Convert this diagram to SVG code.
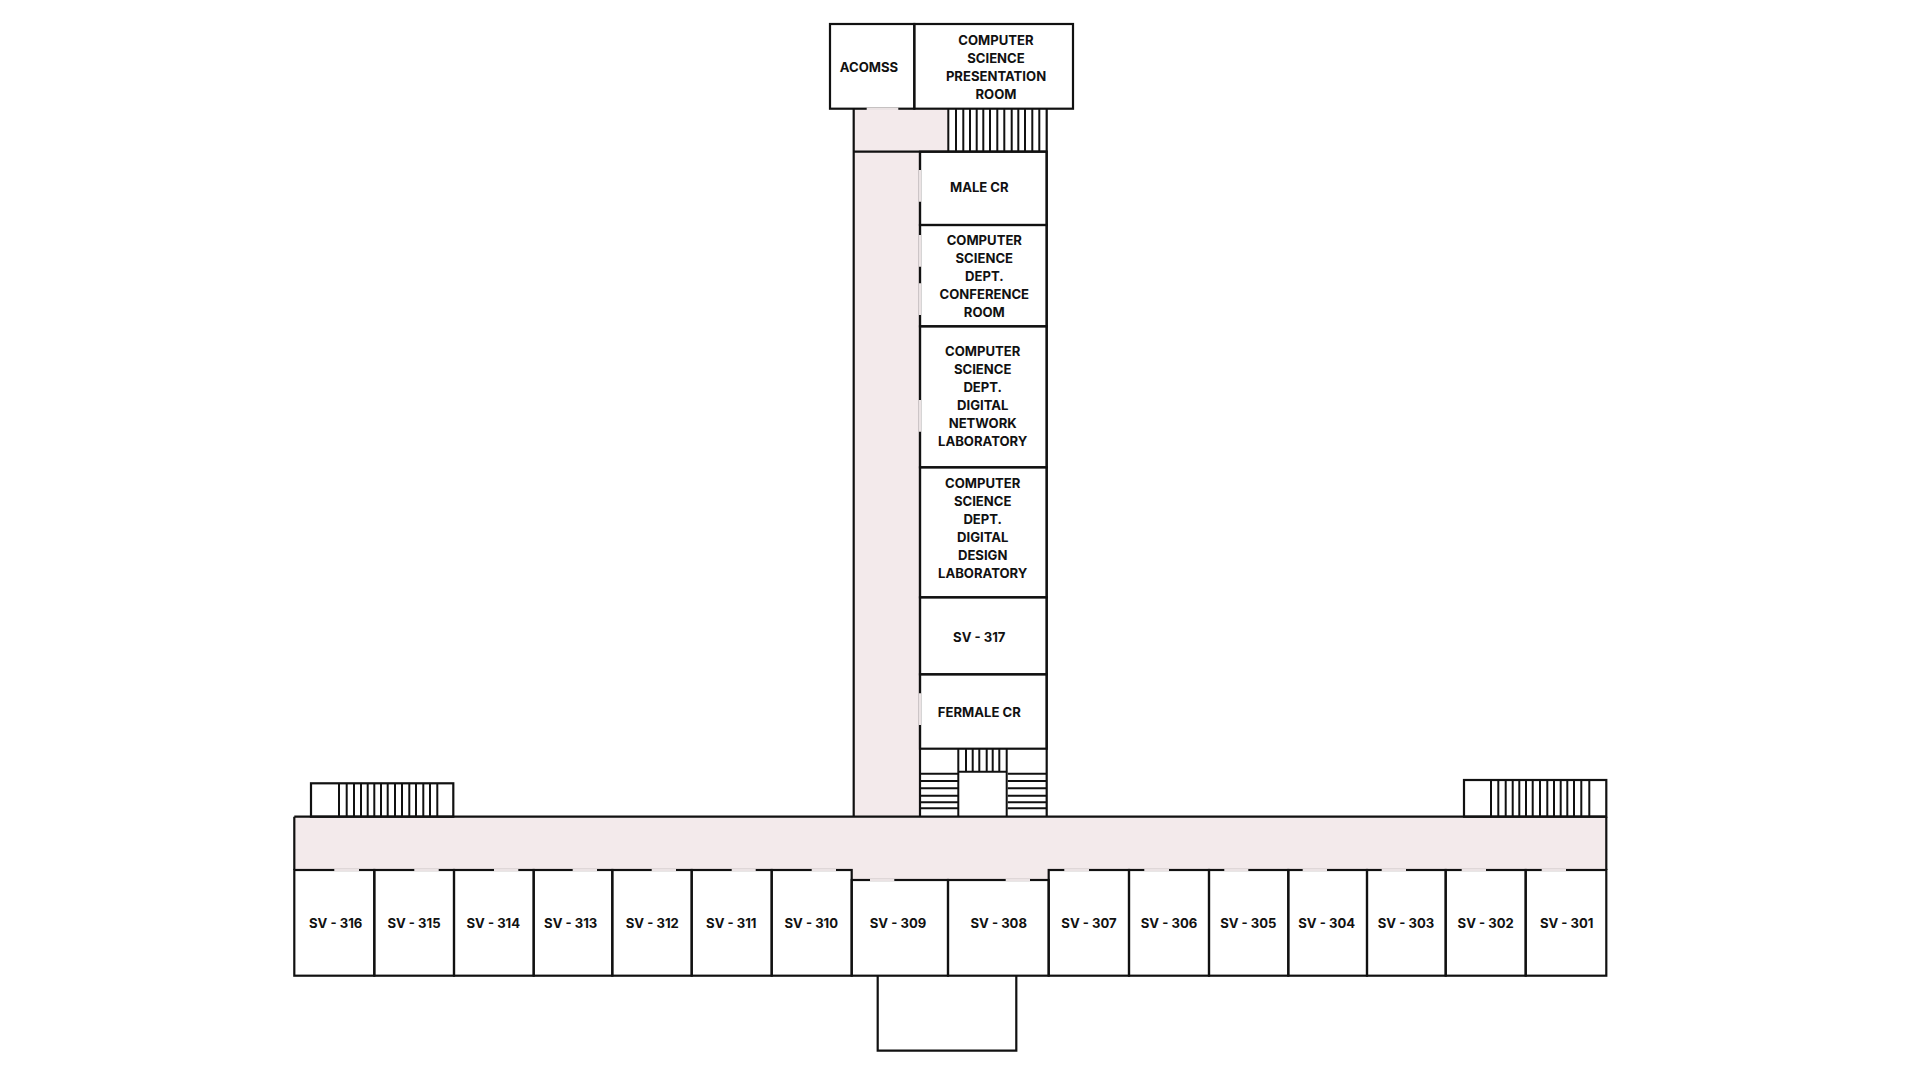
<svg xmlns="http://www.w3.org/2000/svg" width="1920" height="1080" viewBox="0 0 1920 1080">
<style>
.floor{fill:#f3eaeb;stroke:none}
.wall{fill:none;stroke:#111;stroke-width:2.2}
.thin{fill:none;stroke:#111;stroke-width:2}
.door{fill:none;stroke:#ebe3e4;stroke-width:2.4}
text{font-family:"Inter","Liberation Sans",sans-serif;font-size:13.1px;font-weight:700;fill:#111;text-anchor:middle}
</style>
<rect width="1920" height="1080" fill="#fff"/>
<g id="corridors">
<rect class="floor" x="853.7" y="108.7" width="94.6" height="43"/>
<rect class="floor" x="853.7" y="151.7" width="66.3" height="665"/>
<rect class="floor" x="294.3" y="816.7" width="1312" height="53.3"/>
<rect class="floor" x="851.7" y="870" width="197" height="10"/>
<path class="wall" d="M853.7 108.7V816.7M1046.7 108.7V816.7M853.7 151.7H1046.7M920 151.7V816.7M294.3 816.7H1606.3M294.3 816.7V870M1606.3 816.7V870"/>
</g>
<g id="acomss"><rect class="wall" x="830" y="24" width="84.3" height="84.7"/>
<text x="869" y="72.1">ACOMSS</text></g>
<g id="presentation-room"><rect class="wall" x="914.3" y="24" width="158.7" height="84.7"/>
<text x="996" y="45.1">COMPUTER</text><text x="996" y="63.1">SCIENCE</text><text x="996" y="81.1">PRESENTATION</text><text x="996" y="99.1">ROOM</text></g>
<g id="stairs-top"><path class="thin" d="M948.3 108.7V151.7M956 108.7V151.7M963.3 108.7V151.7M970 108.7V151.7M976.7 108.7V151.7M983.3 108.7V151.7M990 108.7V151.7M997.3 108.7V151.7M1004.3 108.7V151.7M1011.7 108.7V151.7M1018.3 108.7V151.7M1025 108.7V151.7M1032.3 108.7V151.7M1039.3 108.7V151.7"/></g>
<g id="male-cr"><rect class="wall" x="920" y="151.7" width="126.7" height="73.3"/>
<text x="979.3" y="192">MALE CR</text></g>
<g id="conference-room"><rect class="wall" x="920" y="225" width="126.7" height="101.3"/>
<text x="984.3" y="245.1">COMPUTER</text><text x="984.3" y="263.1">SCIENCE</text><text x="984.3" y="281.1">DEPT.</text><text x="984.3" y="299.1">CONFERENCE</text><text x="984.3" y="317.1">ROOM</text></g>
<g id="digital-network-lab"><rect class="wall" x="920" y="326.3" width="126.7" height="141"/>
<text x="982.7" y="356.1">COMPUTER</text><text x="982.7" y="374.1">SCIENCE</text><text x="982.7" y="392.1">DEPT.</text><text x="982.7" y="410.1">DIGITAL</text><text x="982.7" y="428.1">NETWORK</text><text x="982.7" y="446.1">LABORATORY</text></g>
<g id="digital-design-lab"><rect class="wall" x="920" y="467.3" width="126.7" height="130"/>
<text x="982.7" y="488.1">COMPUTER</text><text x="982.7" y="506.1">SCIENCE</text><text x="982.7" y="524.1">DEPT.</text><text x="982.7" y="542.1">DIGITAL</text><text x="982.7" y="560.1">DESIGN</text><text x="982.7" y="578.1">LABORATORY</text></g>
<g id="sv-317"><rect class="wall" x="920" y="597.3" width="126.7" height="77"/>
<text x="979.3" y="642.1">SV - 317</text></g>
<g id="female-cr"><rect class="wall" x="920" y="674.3" width="126.7" height="74.4"/>
<text x="979.3" y="717.1">FERMALE CR</text></g>
<g id="stairs-center"><path class="thin" d="M958.3 748.7V816.7M1006.7 748.7V816.7M958.3 771.7H1006.7M966 748.7V771.7M972.7 748.7V771.7M979.3 748.7V771.7M986.7 748.7V771.7M992.7 748.7V771.7M999.3 748.7V771.7"/>
<path class="thin" d="M920 773.7H958.3M920 781H958.3M920 788.3H958.3M920 795.7H958.3M920 802.3H958.3M920 808.3H958.3M1007.7 773.7H1046.7M1007.7 781H1046.7M1007.7 788.3H1046.7M1007.7 795.7H1046.7M1007.7 802.3H1046.7M1007.7 808.3H1046.7"/></g>
<g id="stairs-left"><rect class="wall" x="311" y="783.3" width="142.3" height="33.4"/>
<path class="thin" d="M339 783.3V816.7M346.7 783.3V816.7M354 783.3V816.7M361 783.3V816.7M367.7 783.3V816.7M374.3 783.3V816.7M381 783.3V816.7M387.7 783.3V816.7M395 783.3V816.7M402 783.3V816.7M409.3 783.3V816.7M416 783.3V816.7M423.3 783.3V816.7M430 783.3V816.7M437.3 783.3V816.7"/></g>
<g id="stairs-right"><rect class="wall" x="1464" y="780" width="142.3" height="36.7"/>
<path class="thin" d="M1491 780V816.7M1498.3 780V816.7M1505.7 780V816.7M1512.7 780V816.7M1519.3 780V816.7M1526 780V816.7M1532.7 780V816.7M1540 780V816.7M1547.3 780V816.7M1554 780V816.7M1560.7 780V816.7M1567.3 780V816.7M1574 780V816.7M1581.3 780V816.7M1589.3 780V816.7"/></g>
<g id="sv-316"><rect class="wall" x="294.3" y="870" width="80" height="105.7"/><text x="335.7" y="928.1">SV - 316</text></g>
<g id="sv-315"><rect class="wall" x="374.3" y="870" width="79.7" height="105.7"/><text x="414" y="928.1">SV - 315</text></g>
<g id="sv-314"><rect class="wall" x="454" y="870" width="79.7" height="105.7"/><text x="493.3" y="928.1">SV - 314</text></g>
<g id="sv-313"><rect class="wall" x="533.7" y="870" width="78.6" height="105.7"/><text x="570.7" y="928.1">SV - 313</text></g>
<g id="sv-312"><rect class="wall" x="612.3" y="870" width="79.4" height="105.7"/><text x="652.3" y="928.1">SV - 312</text></g>
<g id="sv-311"><rect class="wall" x="691.7" y="870" width="80" height="105.7"/><text x="731.3" y="928.1">SV - 311</text></g>
<g id="sv-310"><rect class="wall" x="771.7" y="870" width="80" height="105.7"/><text x="811.3" y="928.1">SV - 310</text></g>
<g id="sv-309"><rect class="wall" x="851.7" y="880" width="96.3" height="95.7"/><text x="898" y="928.1">SV - 309</text></g>
<g id="sv-308"><rect class="wall" x="948" y="880" width="100.7" height="95.7"/><text x="998.7" y="928.1">SV - 308</text></g>
<g id="sv-307"><rect class="wall" x="1048.7" y="870" width="80.3" height="105.7"/><text x="1089" y="928.1">SV - 307</text></g>
<g id="sv-306"><rect class="wall" x="1129" y="870" width="80" height="105.7"/><text x="1169" y="928.1">SV - 306</text></g>
<g id="sv-305"><rect class="wall" x="1209" y="870" width="79.3" height="105.7"/><text x="1248.3" y="928.1">SV - 305</text></g>
<g id="sv-304"><rect class="wall" x="1288.3" y="870" width="78.7" height="105.7"/><text x="1326.7" y="928.1">SV - 304</text></g>
<g id="sv-303"><rect class="wall" x="1367" y="870" width="78.7" height="105.7"/><text x="1406" y="928.1">SV - 303</text></g>
<g id="sv-302"><rect class="wall" x="1445.7" y="870" width="80" height="105.7"/><text x="1485.7" y="928.1">SV - 302</text></g>
<g id="sv-301"><rect class="wall" x="1525.7" y="870" width="80.6" height="105.7"/><text x="1566.7" y="928.1">SV - 301</text></g>
<g id="porch"><path class="wall" d="M877.7 975.7V1050.7H1016.3V975.7"/></g>
<g id="doors"><path class="door" d="M866.7 108.7H898.3M920 170V201.7M920 235V266.7M920 283.3V315M920 400V431.7M920 693.3V725M334.3 870H359M414.3 870H438.7M494 870H518.3M572.7 870H597M651.7 870H676M731.7 870H755.7M811.7 870H836M870 880H894.3M1005.7 880H1030M1064.3 870H1089M1144.3 870H1169M1224.3 870H1248.3M1302.7 870H1327M1381.7 870H1406M1461.7 870H1486M1541.7 870H1566"/></g>
</svg>
